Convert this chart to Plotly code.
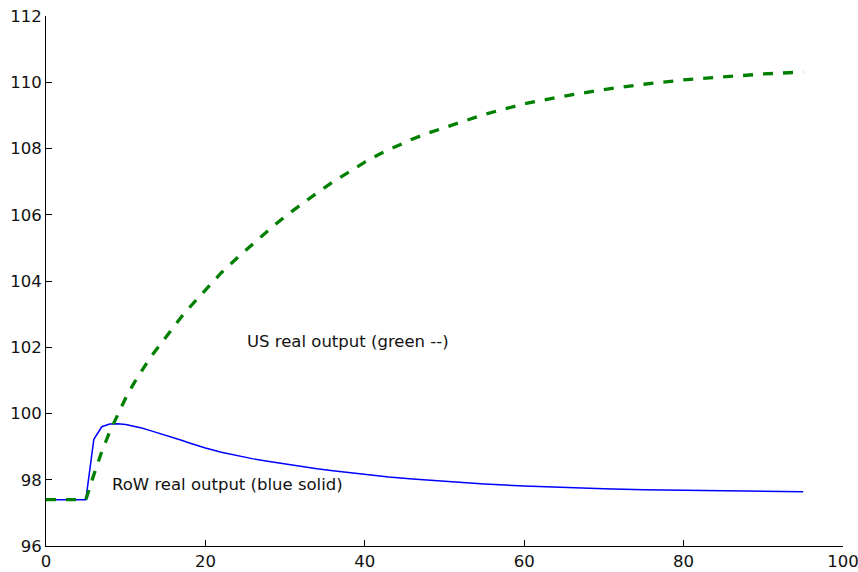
import plotly.graph_objects as go

# US real output (green dashed)
us_x = [0, 1, 2, 3, 4, 5, 6, 7, 8, 9, 10, 11, 12, 13, 14, 15, 16, 17, 18, 20, 22, 24,
        26, 28, 30, 32, 34, 36, 38, 40, 42, 44, 46, 48, 50, 55, 60, 65, 70, 75, 80,
        85, 90, 95]
us_y = [97.4, 97.4, 97.4, 97.4, 97.4, 97.4, 98.15, 98.85, 99.45, 99.98, 100.47, 100.9,
        101.3, 101.66, 101.98, 102.3, 102.62, 102.92, 103.2, 103.74, 104.25, 104.7,
        105.14, 105.55, 105.95, 106.31, 106.66, 106.99, 107.3, 107.59, 107.85, 108.08,
        108.29, 108.47, 108.63, 109.03, 109.35, 109.58, 109.78, 109.94, 110.07,
        110.17, 110.25, 110.31]

# RoW real output (blue solid)
row_x = [0, 1, 2, 3, 4, 5, 6, 7, 8, 9, 10, 11, 12, 13, 14, 15, 16, 17, 18, 19, 20,
         22, 24, 26, 28, 30, 32, 34, 36, 38, 40, 43, 46, 50, 55, 60, 65, 70, 75, 80,
         85, 90, 95]
row_y = [97.4, 97.4, 97.4, 97.4, 97.4, 97.4, 99.22, 99.6, 99.68, 99.69, 99.67, 99.62,
         99.56, 99.49, 99.42, 99.35, 99.27, 99.19, 99.11, 99.03, 98.96, 98.83, 98.72,
         98.63, 98.55, 98.47, 98.4, 98.33, 98.27, 98.21, 98.16, 98.08, 98.02, 97.95,
         97.87, 97.81, 97.76, 97.73, 97.7, 97.68, 97.66, 97.65, 97.64]

x_ticks = [0, 20, 40, 60, 80, 100]
y_ticks = [96, 98, 100, 102, 104, 106, 108, 110, 112]

labels = ["US real output (green --)", "RoW real output (blue solid)"]
label_x = [25, 8]
label_y = [102.17, 97.87]

FONT = "DejaVu Sans"

fig = go.Figure()
fig.add_trace(go.Scatter(x=row_x, y=row_y, mode="lines",
                         line=dict(color="#0000ff", width=1.5), showlegend=False))
fig.add_trace(go.Scatter(x=us_x, y=us_y, mode="lines",
                         line=dict(color="#008000", width=3.3, dash="10px,10px"),
                         showlegend=False))

for t, xx, yy in zip(labels, label_x, label_y):
    fig.add_annotation(x=xx, y=yy, text=t, showarrow=False, xanchor="left",
                       yanchor="middle", font=dict(family=FONT, size=16.5, color="#111111"))

fig.update_layout(
    width=858, height=572,
    margin=dict(l=46, r=15, t=16, b=26),
    paper_bgcolor="white", plot_bgcolor="white",
    font=dict(family=FONT, size=16.5, color="#111111"),
)
fig.update_xaxes(range=[0, 100.0001], tickvals=x_ticks, showgrid=False, zeroline=False,
                 showline=True, linecolor="black", linewidth=1, ticks="inside",
                 ticklen=6, tickcolor="black", mirror=False, automargin=False,
                 ticklabeloverflow="allow")
fig.update_yaxes(range=[96, 112.0001], tickvals=y_ticks, showgrid=False, zeroline=False,
                 showline=True, linecolor="black", linewidth=1, ticks="inside",
                 ticklen=6, tickcolor="black", mirror=False, automargin=False,
                 ticklabeloverflow="allow")

fig.write_html("out.html")
